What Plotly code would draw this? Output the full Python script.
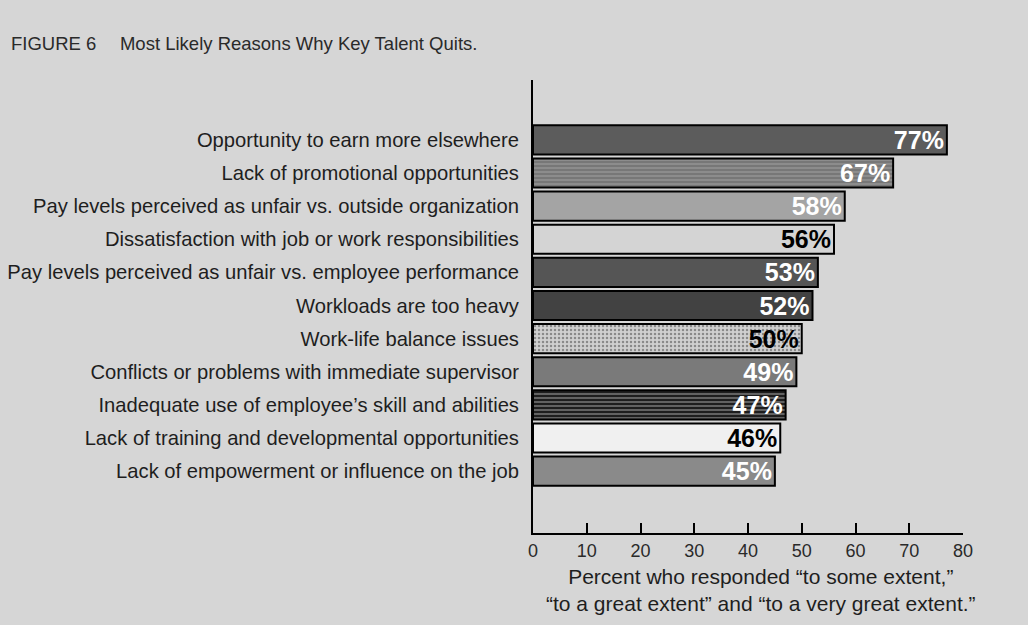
import plotly.graph_objects as go

reasons = [
    "Opportunity to earn more elsewhere",
    "Lack of promotional opportunities",
    "Pay levels perceived as unfair vs. outside organization",
    "Dissatisfaction with job or work responsibilities",
    "Pay levels perceived as unfair vs. employee performance",
    "Workloads are too heavy",
    "Work-life balance issues",
    "Conflicts or problems with immediate supervisor",
    "Inadequate use of employee\u2019s skill and abilities",
    "Lack of training and developmental opportunities",
    "Lack of empowerment or influence on the job",
]
percent = [77, 67, 58, 56, 53, 52, 50, 49, 47, 46, 45]
x_ticks = [0, 10, 20, 30, 40, 50, 60, 70, 80]

bar_fill = ["#5c5c5c", "#8c8c8c", "#a4a4a4", "#d4d4d4", "#555555", "#424242",
            "#d0d0d0", "#7a7a7a", "#1e1e1e", "#f0f0f0", "#8a8a8a"]
label_color = ["white", "white", "white", "black", "white", "white",
               "black", "white", "white", "black", "white"]
pattern_shape = ["", "-", "", "", "", "", ".", "", "-", "", ""]
pattern_fg = ["#5c5c5c", "#707070", "#a4a4a4", "#d4d4d4", "#555555", "#424242",
              "#ababab", "#7a7a7a", "#343434", "#f0f0f0", "#8a8a8a"]

bg = "#d6d6d6"
font_family = "Liberation Sans, Arial, Helvetica, sans-serif"

# plot area in pixels: x 533..963, y 80..533
plot_w, plot_h = 430, 453

fig = go.Figure(
    go.Bar(
        x=percent,
        y=reasons,
        orientation="h",
        marker=dict(
            color=bar_fill,
            line=dict(color="black", width=2),
            pattern=dict(shape=pattern_shape, fgcolor=pattern_fg,
                         bgcolor=bar_fill, size=4, solidity=0.3),
        ),
        text=[f"{v}%" for v in percent],
        textposition="inside",
        insidetextanchor="end",
        textfont=dict(family=font_family, size=25, color=label_color, weight="bold"),
        constraintext="none",
        cliponaxis=False,
        width=0.88,
        hoverinfo="skip",
    )
)

fig.update_layout(
    width=1028,
    height=625,
    margin=dict(l=533, r=65, t=80, b=92, autoexpand=False),
    paper_bgcolor=bg,
    plot_bgcolor=bg,
    showlegend=False,
    font=dict(family=font_family, color="#1e1e1e"),
    annotations=[
        dict(text="FIGURE 6\u2003 Most Likely Reasons Why Key Talent Quits.",
             xref="paper", yref="paper", x=(9 - 533) / plot_w, y=1 + 37 / plot_h,
             xanchor="left", yanchor="middle", showarrow=False,
             font=dict(size=18.5, color="#2a2a2a")),
        dict(text="Percent who responded \u201cto some extent,\u201d<br>"
                  "\u201cto a great extent\u201d and \u201cto a very great extent.\u201d",
             xref="paper", yref="paper", x=(761 - 533) / plot_w, y=-(590 - 533) / plot_h,
             xanchor="center", yanchor="middle", showarrow=False,
             font=dict(size=21, color="#1e1e1e")),
    ],
)

fig.update_xaxes(
    range=[0, 80],
    tickvals=x_ticks,
    ticks="inside",
    ticklen=10,
    tickwidth=2,
    tickcolor="black",
    showline=True,
    linecolor="black",
    linewidth=2,
    showgrid=False,
    zeroline=False,
    automargin=False,
    tickfont=dict(size=18, color="#2a2a2a"),
)

fig.update_yaxes(
    type="category",
    range=[11.87, -1.81],
    showline=True,
    linecolor="black",
    linewidth=2,
    ticks="",
    showgrid=False,
    zeroline=False,
    automargin=False,
    ticklabelstandoff=8,
    tickfont=dict(size=20.2, color="#1e1e1e"),
)

fig.write_html("out.html")
